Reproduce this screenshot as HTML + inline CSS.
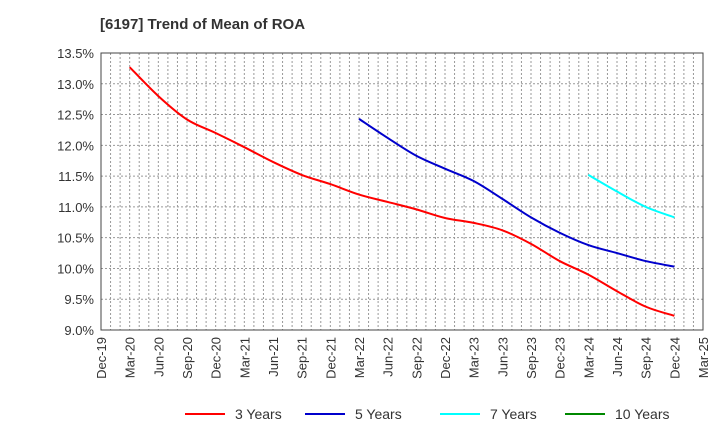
<!DOCTYPE html>
<html><head><meta charset="utf-8"><style>
body{margin:0;background:#fff;font-family:"Liberation Sans",sans-serif}
svg text{font-family:"Liberation Sans",sans-serif}
</style></head><body>
<svg id="c" width="720" height="440">
<text x="100" y="29" font-size="15" font-weight="bold" fill="#333">[6197]  Trend of Mean of ROA</text>
<g id="grid"></g><g id="axes"></g><g id="series"></g><g id="legend"></g>
</svg>
<script>
const xLabels=["Dec-19","Mar-20","Jun-20","Sep-20","Dec-20","Mar-21","Jun-21","Sep-21","Dec-21","Mar-22","Jun-22","Sep-22","Dec-22","Mar-23","Jun-23","Sep-23","Dec-23","Mar-24","Jun-24","Sep-24","Dec-24","Mar-25"];
const yTicks=[9.0,9.5,10.0,10.5,11.0,11.5,12.0,12.5,13.0,13.5];
const s3=[13.27,12.8,12.42,12.2,11.97,11.73,11.52,11.37,11.2,11.08,10.96,10.82,10.74,10.62,10.4,10.12,9.9,9.63,9.38,9.23];
const s5=[12.43,12.12,11.83,11.62,11.42,11.13,10.83,10.58,10.38,10.25,10.12,10.03];
const s7=[11.52,11.25,11.0,10.83];
const s10=[];
const L=101,R=703,T=53,B=330;
const X=i=>L+(R-L)*i/(xLabels.length-1);
const Y=v=>B-(v-9)/(13.5-9)*(B-T);
const NS="http://www.w3.org/2000/svg";
function mk(p,t,a){const e=document.createElementNS(NS,t);for(const k in a)e.setAttribute(k,a[k]);p.appendChild(e);return e;}
const g=document.getElementById('grid'),ax=document.getElementById('axes'),se=document.getElementById('series'),lg=document.getElementById('legend');
for(let m=1;m<(xLabels.length-1)*3;m++){const x=L+(R-L)*m/((xLabels.length-1)*3);
const l=mk(g,'line',{x1:x,x2:x,y1:T,y2:B,stroke:'#999','stroke-width':1,'stroke-dasharray':'2,2'});

}
yTicks.forEach(v=>{const y=Y(v);
const l=mk(g,'line',{x1:L,x2:R,y1:y,y2:y,stroke:'#999','stroke-width':1,'stroke-dasharray':'2,2'});


const t=mk(ax,'text',{x:L-7,y:y+5,'text-anchor':'end','font-size':13,fill:'#333'});t.textContent=v.toFixed(1)+'%';

});
xLabels.forEach((s,i)=>{const x=X(i);
const t=mk(ax,'text',{transform:`translate(${x+5},${B+7}) rotate(-90)`,'text-anchor':'end','font-size':13,fill:'#333'});t.textContent=s;

});
const fr=mk(ax,'rect',{x:L,y:T,width:R-L,height:B-T,fill:'none',stroke:'#444','stroke-width':1});


function line(d,start,col,name){if(!d.length)return;
const P=d.map((v,i)=>[X(start+i),Y(v)]);
let s='M'+P[0][0]+','+P[0][1];
for(let i=0;i<P.length-1;i++){const p0=P[Math.max(i-1,0)],p1=P[i],p2=P[i+1],p3=P[Math.min(i+2,P.length-1)];
s+=` C${p1[0]+(p2[0]-p0[0])/6},${p1[1]+(p2[1]-p0[1])/6} ${p2[0]-(p3[0]-p1[0])/6},${p2[1]-(p3[1]-p1[1])/6} ${p2[0]},${p2[1]}`;}
const p=mk(se,'path',{d:s,fill:'none',stroke:col,'stroke-width':2,'stroke-linejoin':'round'});

}
line(s3,1,'#f00','series-3-years');line(s5,9,'#00c','series-5-years');line(s7,17,'#0ff','series-7-years');line(s10,20,'#080','series-10-years');
[['3 Years','#f00',185],['5 Years','#00c',305],['7 Years','#0ff',440],['10 Years','#080',565]].forEach(([n,c,x])=>{
const l=mk(lg,'line',{x1:x,x2:x+40,y1:414,y2:414,stroke:c,'stroke-width':2});


const t=mk(lg,'text',{x:x+50,y:419,'font-size':14,fill:'#333'});t.textContent=n;

});
</script>
</body></html>
